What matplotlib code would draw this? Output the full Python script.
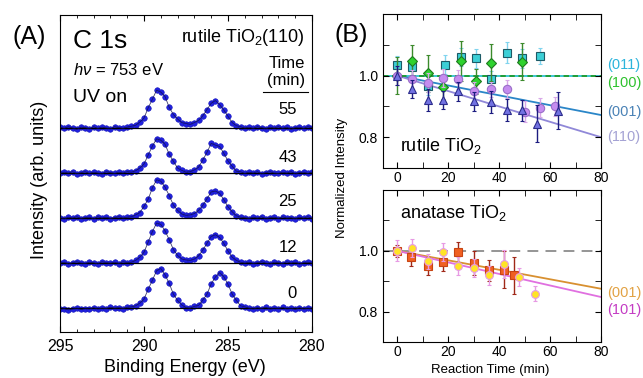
import numpy as np
import matplotlib
matplotlib.use('Agg')
import matplotlib.pyplot as plt
from matplotlib.lines import Line2D
from matplotlib.ticker import MultipleLocator, FixedLocator

plt.rcParams['font.family'] = 'Liberation Sans'
plt.rcParams['mathtext.fontset'] = 'custom'
plt.rcParams['mathtext.rm'] = 'Liberation Sans'
plt.rcParams['mathtext.it'] = 'Liberation Sans:italic'

# ---------------- panel A: C 1s spectra (295 -> 280 eV, 0.25 eV steps) ----------------
energy = np.linspace(295, 280, 61)
spec_times = [0, 12, 25, 43, 55]
spec_0 = [-0.03, -0.01, -0.04, -0.02, 0.00, -0.03, -0.01, -0.02, 0.01, -0.02, 0.00, -0.01, 0.02, 0.00, 0.01, -0.01, 0.02,
          0.03, 0.05, 0.11, 0.20, 0.42, 0.62, 0.83, 0.88, 0.74, 0.55, 0.31, 0.17, 0.07, 0.01, 0.00, 0.04, 0.06, 0.18,
          0.31, 0.54, 0.69, 0.79, 0.70, 0.53, 0.31, 0.17, 0.05, 0.03, 0.00,
          -0.02, 0.01, -0.01, 0.02, -0.02, 0.00, -0.01, 0.02, -0.02, 0.00, -0.03, 0.01, -0.02, 0.00, -0.02]
spec_12 = [0.00, 0.02, -0.02, 0.01, 0.03, 0.00, -0.01, 0.02, 0.01, -0.02, 0.03, 0.01, 0.00, 0.02, -0.01, 0.03, 0.01,
           0.02, 0.06, 0.13, 0.24, 0.47, 0.70, 0.89, 0.86, 0.72, 0.52, 0.30, 0.17, 0.09, 0.07, 0.06, 0.09, 0.16, 0.29,
           0.44, 0.59, 0.63, 0.57, 0.44, 0.27, 0.13, 0.06, 0.02, 0.00,
           0.02, -0.01, 0.01, 0.03, 0.00, -0.02, 0.02, 0.01, -0.01, 0.03, 0.00, 0.02, -0.02, 0.01, 0.02, 0.00]
spec_25 = [0.01, -0.02, 0.02, 0.00, 0.03, -0.01, 0.01, 0.02, -0.02, 0.03, 0.00, 0.02, -0.01, 0.01, 0.03, 0.00, 0.02,
           0.03, 0.07, 0.12, 0.26, 0.42, 0.67, 0.85, 0.82, 0.69, 0.50, 0.29, 0.17, 0.09, 0.06, 0.07, 0.10, 0.17, 0.28,
           0.43, 0.58, 0.60, 0.55, 0.41, 0.25, 0.14, 0.05, 0.02, 0.01,
           -0.01, 0.02, 0.00, 0.03, -0.02, 0.01, 0.02, -0.01, 0.03, 0.00, 0.01, -0.02, 0.02, 0.00, 0.03, -0.01]
spec_43 = [-0.01, 0.02, 0.00, 0.03, -0.02, 0.01, 0.03, -0.01, 0.02, 0.00, -0.02, 0.03, 0.01, -0.01, 0.02, 0.00, 0.03,
           0.02, 0.05, 0.11, 0.20, 0.40, 0.60, 0.76, 0.73, 0.64, 0.42, 0.26, 0.11, 0.06, 0.02, 0.03, 0.07, 0.13, 0.29,
           0.46, 0.66, 0.62, 0.59, 0.44, 0.27, 0.15, 0.04, 0.03, -0.01,
           0.02, 0.00, 0.03, -0.02, 0.01, 0.03, 0.00, -0.01, 0.02, 0.00, 0.03, -0.02, 0.01, 0.02, -0.01, 0.02]
spec_55 = [0.02, -0.01, 0.03, 0.00, -0.03, 0.02, 0.01, -0.02, 0.03, -0.01, 0.02, 0.00, -0.02, 0.03, 0.01, -0.01, 0.02,
           0.04, 0.06, 0.13, 0.22, 0.45, 0.64, 0.84, 0.80, 0.70, 0.46, 0.30, 0.20, 0.12, 0.10, 0.08, 0.12, 0.17, 0.27,
           0.41, 0.55, 0.61, 0.52, 0.40, 0.26, 0.12, 0.05, 0.03, 0.00,
           0.02, -0.01, 0.03, 0.01, -0.02, 0.02, 0.00, 0.03, -0.01, 0.02, -0.03, 0.01, 0.02, -0.01, 0.03, 0.01]
spectra = [spec_0, spec_12, spec_25, spec_43, spec_55]

# ---------------- panel B: normalized intensity vs reaction time ----------------
# rutile
t_r011 = [0, 6, 12, 19, 25, 31, 37, 43, 49, 56]
v_r011 = [1.034, 1.028, 0.966, 1.036, 1.061, 1.056, 0.990, 1.075, 1.056, 1.063]
e_r011 = [0.03, 0.03, 0.03, 0.03, 0.03, 0.03, 0.025, 0.035, 0.03, 0.025]
t_r100 = [0, 6, 12, 18, 25, 31, 37, 49]
v_r100 = [1.0, 1.048, 1.007, 0.963, 1.047, 0.981, 1.041, 1.045]
e_r100 = [0.06, 0.05, 0.06, 0.04, 0.065, 0.04, 0.06, 0.06]
t_r001 = [0, 6, 12, 18, 24, 30, 37, 43, 50, 56, 62]
v_r001 = [1.0, 0.988, 0.977, 0.992, 0.988, 0.949, 0.955, 0.957, 0.883, 0.896, 0.900]
e_r001 = [0.03, 0.03, 0.03, 0.03, 0.03, 0.03, 0.025, 0.03, 0.035, 0.03, 0.03]
t_r110 = [0, 6, 12, 18, 24, 30, 37, 43, 49, 55, 63]
v_r110 = [1.0, 0.957, 0.921, 0.921, 0.949, 0.916, 0.914, 0.889, 0.887, 0.843, 0.886]
e_r110 = [0.03, 0.03, 0.035, 0.03, 0.03, 0.03, 0.035, 0.035, 0.035, 0.06, 0.06]
# anatase
t_a001 = [0, 5.4, 12, 18, 24, 30, 36, 42, 46]
v_a001 = [1.0, 0.979, 0.951, 0.963, 0.995, 0.960, 0.936, 0.938, 0.919]
e_a001 = [0.02, 0.03, 0.03, 0.03, 0.035, 0.04, 0.035, 0.06, 0.06]
t_a101 = [0, 6, 12, 18, 24, 30, 36, 42, 48, 54]
v_a101 = [1.0, 1.009, 0.965, 0.995, 0.949, 0.943, 0.919, 0.956, 0.914, 0.859]
e_a101 = [0.035, 0.03, 0.025, 0.03, 0.03, 0.03, 0.03, 0.045, 0.03, 0.025]

# linear fit slopes (per min), all start from 1.0 at t = 0
slope_r001 = -0.0016
slope_r110 = -0.0025
slope_a001 = -0.00156
slope_a101 = -0.0019

W, H = 643, 378
fig = plt.figure(figsize=(W / 100, H / 100), dpi=100)


def box(x0, y0, x1, y1):
    return [x0 / W, 1 - y1 / H, (x1 - x0) / W, (y1 - y0) / H]


def ftext(x, y, s, **kw):
    fig.text(x / W, 1 - y / H, s, **kw)


# ---- panel A
axA = fig.add_axes(box(60, 15, 312, 332))
offsets = list(range(len(spectra)))
axA.hlines(offsets, 295, 280, color='k', lw=0.9, zorder=3)
for off, s in zip(offsets, spectra):
    y = np.array(s) + off
    axA.plot(energy, y, 'o', ms=4.0, mfc='#2020e0', mec='#1818b8', mew=0.4, zorder=2)
    axA.plot(energy, y, '-', color='#10104a', lw=0.6, alpha=0.8, zorder=4)
axA.set_xlim(295, 280)
axA.set_ylim(-0.53, 6.51)
axA.xaxis.set_major_locator(MultipleLocator(5))
axA.xaxis.set_minor_locator(MultipleLocator(1))
axA.tick_params(axis='x', which='both', direction='in', top=True, labelsize=11.5, pad=5)
axA.tick_params(axis='x', which='major', length=4)
axA.tick_params(axis='x', which='minor', length=2.5)
axA.set_yticks([])

ftext(185, 368, 'Binding Energy (eV)', fontsize=13, ha='center', va='center')
ftext(40, 180, 'Intensity (arb. units)', fontsize=13, ha='center', va='center', rotation=90)
ftext(12, 37, '(A)', fontsize=18, va='center')
ftext(73, 41, 'C 1s', fontsize=19, va='center')
ftext(305, 37, 'rutile TiO$_2$(110)', fontsize=13, ha='right', va='center')
ftext(73, 70, r'$h\nu$ = 753 eV', fontsize=12, va='center')
ftext(73, 98, 'UV on', fontsize=14, va='center')
ftext(305, 63, 'Time', fontsize=12, ha='right', va='center')
ftext(305, 80, '(min)', fontsize=12, ha='right', va='center')
fig.add_artist(Line2D([263 / W, 308 / W], [1 - 92 / H] * 2, color='k', lw=0.8))
for t, yc in zip(spec_times, [293, 247, 202, 157, 110]):
    ftext(297, yc, str(t), fontsize=12, ha='right', va='center')


# ---- panel B
def style_b(ax):
    ax.set_xlim(-5.5, 80)
    ax.set_ylim(0.7, 1.2)
    ax.xaxis.set_major_locator(MultipleLocator(20))
    ax.xaxis.set_minor_locator(MultipleLocator(10))
    ax.yaxis.set_major_locator(FixedLocator([0.8, 1.0]))
    ax.yaxis.set_minor_locator(MultipleLocator(0.1))
    ax.tick_params(which='both', direction='in', top=True, right=True, labelsize=10)
    ax.tick_params(axis='x', which='both', pad=2.5)
    ax.tick_params(which='major', length=4)
    ax.tick_params(which='minor', length=4)


def series(ax, t, v, e, ecol, marker, ms, fc, mec, z):
    ax.errorbar(t, v, yerr=e, fmt='none', ecolor=ecol, elinewidth=1.0, capsize=1.5, capthick=0.8, zorder=z)
    ax.plot(t, v, marker, ms=ms, mfc=fc, mec=mec, mew=0.8, ls='none', zorder=z + 0.5)


axT = fig.add_axes(box(383, 14, 601, 168))
style_b(axT)
tt = np.array([0, 80])
axT.axhline(1.0, color='#30c0d0', lw=1.3, zorder=1)
axT.axhline(1.0, color='#1f9a2a', lw=1.3, ls=(0, (3, 2)), zorder=1.1)
axT.plot(tt, 1 + slope_r001 * tt, color='#2a86c8', lw=1.3, zorder=1)
axT.plot(tt, 1 + slope_r110 * tt, color='#9088d8', lw=1.3, zorder=1)
series(axT, t_r011, v_r011, e_r011, '#80d4ee', 's', 5.2, '#3ccfd6', '#1d5a66', 2)
series(axT, t_r100, v_r100, e_r100, '#3c8a2c', 'D', 4.8, '#2ed22e', '#1f7a1f', 3)
series(axT, t_r001, v_r001, e_r001, '#d8a8e8', 'o', 6.0, '#c58cef', '#9a6fc8', 4)
series(axT, t_r110, v_r110, e_r110, '#1c1c80', '^', 6.2, '#7272e2', '#2c2c8c', 5)
axT.text(0.08, 0.14, 'rutile TiO$_2$', transform=axT.transAxes, fontsize=13, va='center')

axB = fig.add_axes(box(383, 190, 601, 342))
style_b(axB)
axB.axhline(1.0, color='#8c8c8c', lw=1.3, ls=(0, (6, 4)), zorder=1)
axB.plot(tt, 1 + slope_a001 * tt, color='#d89030', lw=1.3, zorder=1)
axB.plot(tt, 1 + slope_a101 * tt, color='#e070e0', lw=1.3, zorder=1)
series(axB, t_a001, v_a001, e_a001, '#a02818', 's', 5.8, '#f06022', '#c84412', 2)
series(axB, t_a101, v_a101, e_a101, '#e79ae4', 'o', 5.6, '#ffe426', '#e69ae6', 3)
axB.text(0.08, 0.85, 'anatase TiO$_2$', transform=axB.transAxes, fontsize=13, va='center')

ftext(490, 370, 'Reaction Time (min)', fontsize=9.5, ha='center', va='center')
ftext(342, 178, 'Normalized Intensity', fontsize=9.5, ha='center', va='center', rotation=90)
ftext(335, 35, '(B)', fontsize=18, va='center')

for lab, yc, col in [('(011)', 65, '#2cb4dc'), ('(100)', 83, '#2ec22e'),
                     ('(001)', 112, '#4a82b6'), ('(110)', 137, '#a4a2d4'),
                     ('(001)', 293, '#e2a244'), ('(101)', 310, '#c43cc4')]:
    ftext(607, yc, lab, fontsize=10.5, color=col, va='center')

fig.savefig('out.png', dpi=100)
